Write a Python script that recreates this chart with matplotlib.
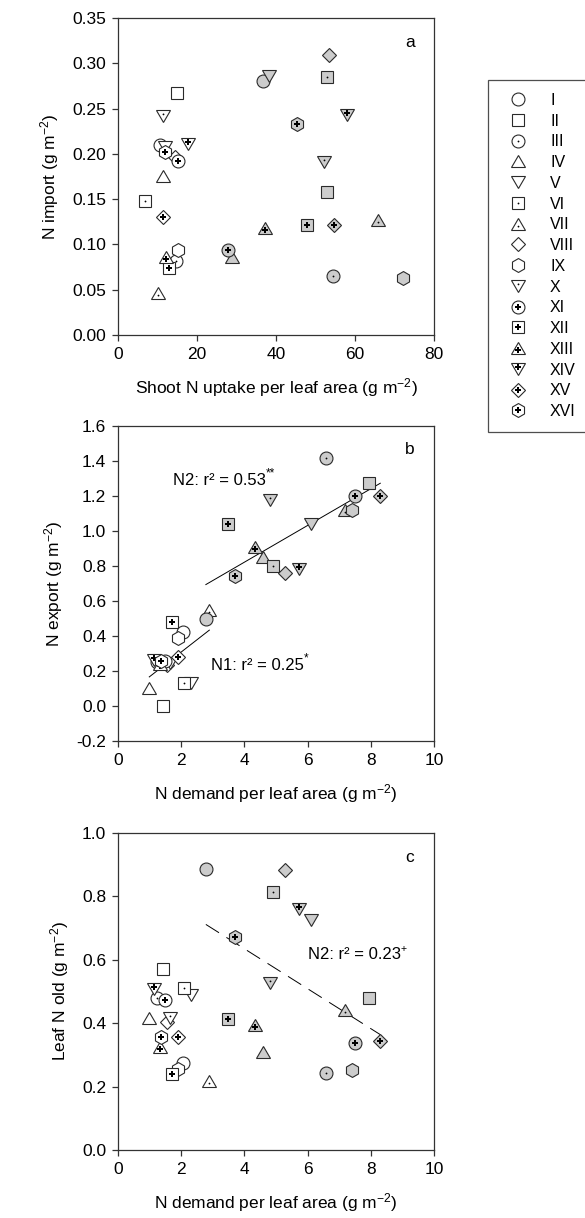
import numpy as np
import matplotlib
matplotlib.use("Agg")
import matplotlib.pyplot as plt
from matplotlib.lines import Line2D
from matplotlib.markers import MarkerStyle
from matplotlib.transforms import Affine2D

plt.rcParams['font.family'] = ['Liberation Sans', 'DejaVu Sans']
plt.rcParams['mathtext.fontset'] = 'custom'
plt.rcParams['mathtext.rm'] = 'Liberation Sans'
plt.rcParams['mathtext.it'] = 'Liberation Sans:italic'

# ---------------- data ----------------
genotypes = ['I', 'II', 'III', 'IV', 'V', 'VI', 'VII', 'VIII',
             'IX', 'X', 'XI', 'XII', 'XIII', 'XIV', 'XV', 'XVI']

# Panel a: shoot N uptake per leaf area vs N import
uptake_n1 = [10.6, 15.0, 14.8, 11.5, 11.8, 6.8, 10.0, 14.5, 15.3, 11.3, 15.3, 13.0, 12.2, 17.8, 11.5, 11.9]
import_n1 = [0.210, 0.2675, 0.082, 0.175, 0.208, 0.148, 0.046, 0.197, 0.094, 0.242, 0.1925, 0.0736, 0.0865, 0.211, 0.130, 0.2024]
uptake_n2 = [36.6, 52.8, 54.5, 28.8, 38.3, 53.0, 65.7, 53.5, 72.1, 52.2, 27.9, 47.8, 37.2, 57.9, 54.7, 45.2]
import_n2 = [0.280, 0.158, 0.065, 0.0865, 0.286, 0.2845, 0.127, 0.309, 0.0626, 0.191, 0.094, 0.121, 0.118, 0.243, 0.122, 0.2326]

# Panels b, c: N demand per leaf area
demand_n1 = [2.06, 1.41, 1.24, 0.99, 2.31, 2.10, 2.89, 1.54, 1.91, 1.64, 1.49, 1.70, 1.33, 1.14, 1.89, 1.35]
demand_n2 = [2.78, 7.94, 6.58, 4.59, 6.10, 4.91, 7.17, 5.29, 7.42, 4.80, 7.51, 3.49, 4.33, 5.72, 8.30, 3.69]

export_n1 = [0.424, 0.0, 0.25, 0.101, 0.130, 0.130, 0.549, 0.234, 0.387, 0.245, 0.255, 0.478, 0.240, 0.265, 0.280, 0.260]
export_n2 = [0.497, 1.276, 1.419, 0.853, 1.040, 0.800, 1.120, 0.762, 1.120, 1.177, 1.200, 1.040, 0.910, 0.783, 1.200, 0.745]

leafold_n1 = [0.273, 0.570, 0.481, 0.415, 0.488, 0.512, 0.218, 0.405, 0.257, 0.415, 0.474, 0.239, 0.325, 0.509, 0.358, 0.358]
leafold_n2 = [0.885, 0.480, 0.243, 0.310, 0.725, 0.814, 0.441, 0.882, 0.252, 0.527, 0.338, 0.413, 0.394, 0.761, 0.343, 0.672]

yticks_a = [0.00, 0.05, 0.10, 0.15, 0.20, 0.25, 0.30, 0.35]
xticks_a = [0, 20, 40, 60, 80]
yticks_b = [-0.2, 0.0, 0.2, 0.4, 0.6, 0.8, 1.0, 1.2, 1.4, 1.6]
xticks_bc = [0, 2, 4, 6, 8, 10]
yticks_c = [0.0, 0.2, 0.4, 0.6, 0.8, 1.0]

# ---------------- styles ----------------
base = {'I': 'o', 'II': 's', 'III': 'o', 'IV': '^', 'V': 'v', 'VI': 's', 'VII': '^', 'VIII': 'D',
        'IX': 'h', 'X': 'v', 'XI': 'o', 'XII': 's', 'XIII': '^', 'XIV': 'v', 'XV': 'D', 'XVI': 'h'}
deco = {'I': '', 'II': '', 'III': 'dot', 'IV': '', 'V': '', 'VI': 'dot', 'VII': 'dot', 'VIII': '',
        'IX': '', 'X': 'dot', 'XI': 'plus', 'XII': 'plus', 'XIII': 'plus', 'XIV': 'plus', 'XV': 'plus', 'XVI': 'plus'}
msize = {'o': 9.3, 's': 8.8, '^': 10.4, 'v': 10.4, 'D': 7.0, 'h': 10.0}
EDGE = '#2a2a2a'
GREY = '#cccccc'
TRI_SQUASH = 0.87
PLUS_MS = 4.8
DOT_MS = 1.3


def marker_artists(m, d, face):
    if m in ('^', 'v'):
        mk = MarkerStyle(m, transform=Affine2D().scale(1.0, TRI_SQUASH))
        # centroid offset in points
        off = msize[m] * TRI_SQUASH / 6.0 * (-1 if m == '^' else 1)
    else:
        mk = m
        off = 0.0
    arts = [dict(marker=mk, ms=msize[m], mfc=face, mec=EDGE, mew=0.8, ls='none')]
    if d == 'dot':
        arts.append(dict(marker=MarkerStyle('o', transform=Affine2D().translate(0, off / DOT_MS)),
                         ms=DOT_MS, mfc='black', mec='black', mew=0.0, ls='none'))
    elif d == 'plus':
        arts.append(dict(marker=MarkerStyle('P', transform=Affine2D().translate(0, off / PLUS_MS)),
                         ms=PLUS_MS, mfc='black', mec='black', mew=0.0, ls='none'))
    return arts


def draw(ax, xs, ys, face):
    for g, x, y in zip(genotypes, xs, ys):
        for kw in marker_artists(base[g], deco[g], face):
            ax.plot([x], [y], **kw, zorder=3)


W, H = 585, 1218
fig = plt.figure(figsize=(W / 100, H / 100), dpi=100)


def axes_px(left, top, right, bottom):
    return fig.add_axes([left / W, 1 - bottom / H, (right - left) / W, (bottom - top) / H])


ax_a = axes_px(118, 18, 434, 335)
ax_b = axes_px(118, 426, 434, 741)
ax_c = axes_px(118, 833, 434, 1150)

TICKFS = 12.5
ANNFS = 12
for ax in (ax_a, ax_b, ax_c):
    for s in ax.spines.values():
        s.set_linewidth(0.9)
        s.set_color('#333333')
    ax.tick_params(direction='out', length=4, width=0.9, color='#333333', labelsize=TICKFS, pad=4.5)

# panel a
draw(ax_a, uptake_n1, import_n1, 'white')
draw(ax_a, uptake_n2, import_n2, GREY)
ax_a.set_xlim(0, 80)
ax_a.set_ylim(0, 0.35)
ax_a.set_xticks(xticks_a)
ax_a.set_yticks(yticks_a)
ax_a.set_yticklabels([f'{v:.2f}' for v in yticks_a])
ax_a.set_xlabel('Shoot N uptake per leaf area (g m$^{-2}$)', fontsize=TICKFS, labelpad=10)
ax_a.set_ylabel('N import (g m$^{-2}$)', fontsize=TICKFS, labelpad=8)
ax_a.text(0.924, 0.924, 'a', transform=ax_a.transAxes, fontsize=TICKFS, ha='center', va='center')

# panel b
x1 = np.array(demand_n1); y1 = np.array(export_n1)
x2 = np.array(demand_n2); y2 = np.array(export_n2)
c1 = np.polyfit(x1, y1, 1)
c2 = np.polyfit(x2, y2, 1)
xx1 = np.array([x1.min(), x1.max()])
xx2 = np.array([x2.min(), x2.max()])
ax_b.plot(xx1, np.polyval(c1, xx1), color='black', lw=0.7, zorder=2)
ax_b.plot(xx2, np.polyval(c2, xx2), color='black', lw=0.7, zorder=2)
draw(ax_b, demand_n1, export_n1, 'white')
draw(ax_b, demand_n2, export_n2, GREY)
ax_b.set_xlim(0, 10)
ax_b.set_ylim(-0.2, 1.6)
ax_b.set_xticks(xticks_bc)
ax_b.set_yticks(yticks_b)
ax_b.set_yticklabels([f'{v:.1f}' for v in yticks_b])
ax_b.set_xlabel('N demand per leaf area (g m$^{-2}$)', fontsize=TICKFS, labelpad=10)
ax_b.set_ylabel('N export (g m$^{-2}$)', fontsize=TICKFS, labelpad=8)
ax_b.text(0.924, 0.924, 'b', transform=ax_b.transAxes, fontsize=TICKFS, ha='center', va='center')

t = ax_b.text(1.75, 1.29, 'N2: r\u00b2 = 0.53', fontsize=ANNFS, ha='left', va='center')
ax_b.annotate('**', xy=(1.0, 0.55), xycoords=t, fontsize=8.5, ha='left', va='bottom')
t = ax_b.text(2.94, 0.233, 'N1: r\u00b2 = 0.25', fontsize=ANNFS, ha='left', va='center')
ax_b.annotate('*', xy=(1.0, 0.55), xycoords=t, fontsize=8.5, ha='left', va='bottom')

# panel c
x2c = np.array(demand_n2); y2c = np.array(leafold_n2)
c3 = np.polyfit(x2c, y2c, 1)
xx3 = np.array([x2c.min(), x2c.max()])
ax_c.plot(xx3, np.polyval(c3, xx3), color='black', lw=0.7, ls=(0, (16, 9)), zorder=2)
draw(ax_c, demand_n1, leafold_n1, 'white')
draw(ax_c, demand_n2, leafold_n2, GREY)
ax_c.set_xlim(0, 10)
ax_c.set_ylim(0, 1.0)
ax_c.set_xticks(xticks_bc)
ax_c.set_yticks(yticks_c)
ax_c.set_yticklabels([f'{v:.1f}' for v in yticks_c])
ax_c.set_xlabel('N demand per leaf area (g m$^{-2}$)', fontsize=TICKFS, labelpad=10)
ax_c.set_ylabel('Leaf N old (g m$^{-2}$)', fontsize=TICKFS, labelpad=8)
ax_c.text(0.924, 0.924, 'c', transform=ax_c.transAxes, fontsize=TICKFS, ha='center', va='center')
t = ax_c.text(6.01, 0.617, 'N2: r\u00b2 = 0.23', fontsize=ANNFS, ha='left', va='center')
ax_c.annotate('+', xy=(1.0, 0.55), xycoords=t, fontsize=7.5, ha='left', va='bottom')

# legend
handles = []
for g in genotypes:
    parts = tuple(Line2D([], [], **kw) for kw in marker_artists(base[g], deco[g], 'white'))
    handles.append(parts)
leg = fig.legend(handles, genotypes, loc='upper left', bbox_to_anchor=(488 / W, 1 - 80 / H),
                 borderaxespad=0.0, frameon=True, fancybox=False, edgecolor='#222222',
                 fontsize=11.5, labelspacing=0.36, handlelength=2.2, handletextpad=0.89,
                 borderpad=0.8)
leg.get_frame().set_linewidth(0.9)

fig.savefig('out.png', dpi=100)
